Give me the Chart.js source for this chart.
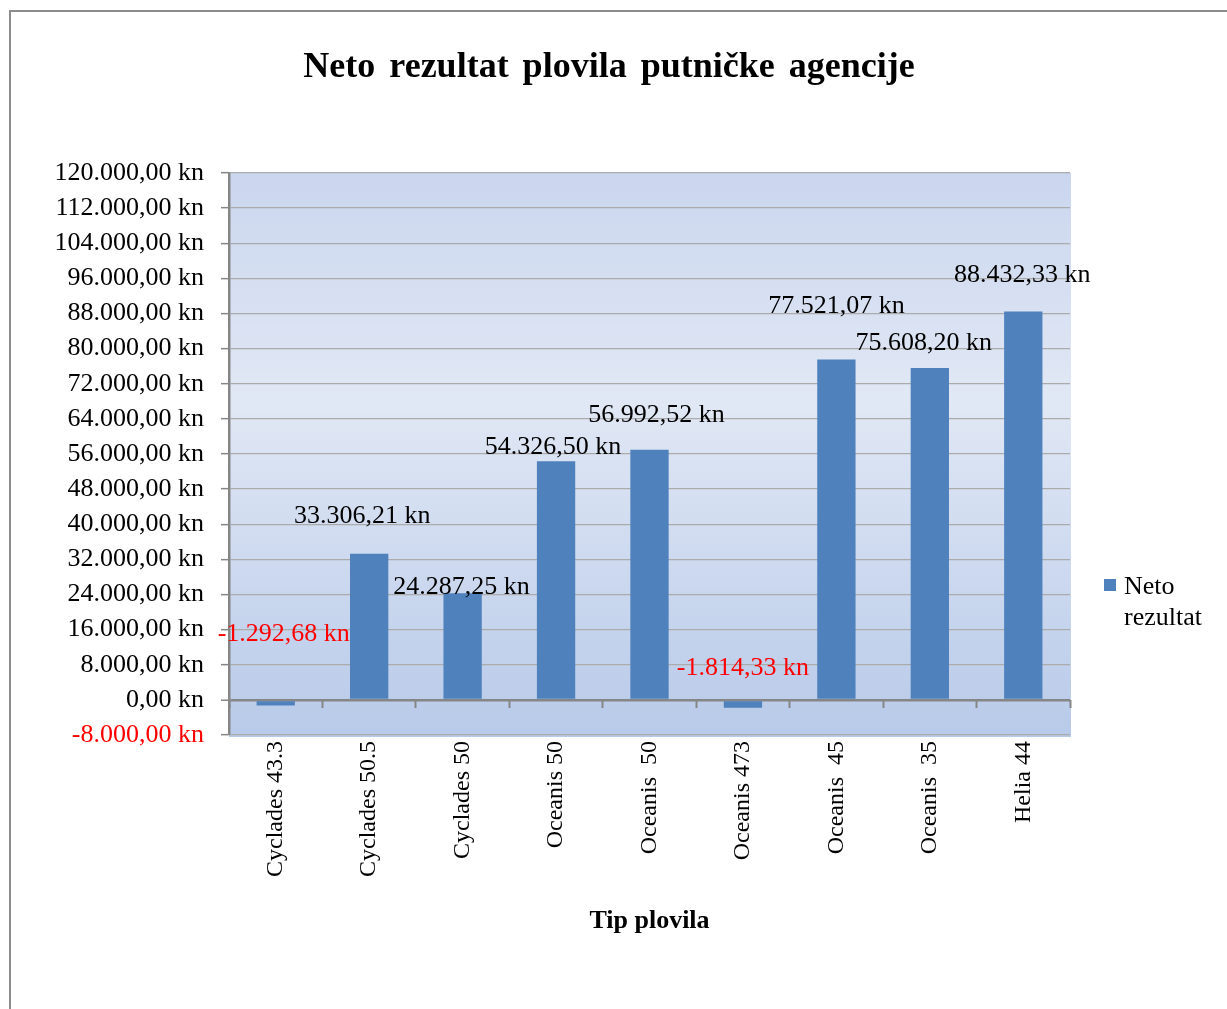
<!DOCTYPE html>
<html>
<head>
<meta charset="utf-8">
<script src="https://cdn.jsdelivr.net/npm/chart.js@4.4.1/dist/chart.umd.min.js"></script>
<style>
  html, body { margin: 0; padding: 0; background: #ffffff; }
  #wrap { position: relative; width: 1227px; height: 1009px; }
</style>
</head>
<body>
<div id="wrap"><canvas id="c" width="1227" height="1009"></canvas></div>
<script>
// ---- data ----
const categories = ['Cyclades 43.3', 'Cyclades 50.5', 'Cyclades 50', 'Oceanis 50', 'Oceanis  50', 'Oceanis 473', 'Oceanis  45', 'Oceanis  35', 'Helia 44'];
const netoRezultat = [-1292.68, 33306.21, 24287.25, 54326.50, 56992.52, -1814.33, 77521.07, 75608.20, 88432.33];
const seriesName = ['Neto', 'rezultat'];
const chartTitle = 'Neto rezultat plovila putničke agencije';
const xAxisTitle = 'Tip plovila';
const yMin = -8000, yMax = 120000, yStep = 8000;

// ---- layout tweaks for data labels (pixel shifts relative to bar end) ----
const labelShiftX = [8, -7, -1, -3, 7, 0, 0, -6, -1];
const labelShiftY = [-66, -37, -6, -14, -34, -32, -53, -25, -36];

const SERIF = '"Liberation Serif", "Times New Roman", serif';
const BAR = '#4F81BD';

function fmt(v) {
  const neg = v < 0;
  const a = Math.abs(v);
  let s = a.toFixed(2);
  let [i, d] = s.split('.');
  i = i.replace(/\B(?=(\d{3})+(?!\d))/g, '.');
  return (neg ? '-' : '') + i + ',' + d + ' kn';
}

const decorPlugin = {
  id: 'decor',
  beforeDraw(chart) {
    const ctx = chart.ctx;
    const a = chart.chartArea;
    ctx.save();
    // outer border
    ctx.strokeStyle = '#8c8c8c';
    ctx.lineWidth = 2;
    ctx.beginPath();
    ctx.moveTo(10, 1009);
    ctx.lineTo(10, 11);
    ctx.lineTo(1227, 11);
    ctx.stroke();
    // plot background gradient
    const g = ctx.createLinearGradient(0, a.top, 0, a.bottom + 2);
    g.addColorStop(0, '#CAD6EE');
    g.addColorStop(0.4, '#E1E8F5');
    g.addColorStop(1, '#B8CAE9');
    ctx.fillStyle = g;
    ctx.fillRect(a.left, a.top, a.right - a.left + 1, a.bottom - a.top + 2);
    ctx.restore();
  },
  afterDraw(chart) {
    const ctx = chart.ctx;
    const a = chart.chartArea;
    ctx.save();
    // title
    ctx.fillStyle = '#000';
    ctx.textAlign = 'center';
    ctx.textBaseline = 'middle';
    ctx.font = 'bold 36px ' + SERIF;
    if ('wordSpacing' in ctx) ctx.wordSpacing = '5px';
    ctx.fillText(chartTitle, 609, 68);
    if ('wordSpacing' in ctx) ctx.wordSpacing = '0px';
    // x axis title
    ctx.font = 'bold 26px ' + SERIF;
    ctx.fillText(xAxisTitle, (a.left + a.right) / 2, 921);
    // legend
    ctx.fillStyle = BAR;
    ctx.fillRect(1104, 579, 12, 12);
    ctx.fillStyle = '#000';
    ctx.textAlign = 'left';
    ctx.font = '26px ' + SERIF;
    ctx.fillText(seriesName[0], 1124, 587);
    ctx.fillText(seriesName[1], 1124, 618);
    ctx.restore();
  },
  afterDatasetsDraw(chart) {
    const ctx = chart.ctx;
    const meta = chart.getDatasetMeta(0);
    const ys = chart.scales.y;
    ctx.save();
    ctx.font = '26px ' + SERIF;
    ctx.textAlign = 'center';
    ctx.textBaseline = 'middle';
    meta.data.forEach((bar, i) => {
      const v = netoRezultat[i];
      const yEnd = ys.getPixelForValue(Math.max(v, 0));
      ctx.fillStyle = v < 0 ? '#FF0000' : '#000000';
      ctx.fillText(fmt(v), bar.x + labelShiftX[i], yEnd + labelShiftY[i]);
    });
    ctx.restore();
  }
};

new Chart(document.getElementById('c'), {
  type: 'bar',
  data: {
    labels: categories,
    datasets: [{
      label: seriesName.join(' '),
      data: netoRezultat,
      backgroundColor: BAR,
      borderWidth: 0,
      categoryPercentage: 1.0,
      barPercentage: 0.41,
      xAxisID: 'x',
      yAxisID: 'y'
    }]
  },
  options: {
    responsive: false,
    animation: false,
    devicePixelRatio: 1,
    layout: { padding: { top: 173, right: 157, bottom: 0, left: 0 } },
    plugins: {
      legend: { display: false },
      title: { display: false },
      tooltip: { enabled: false }
    },
    scales: {
      y: {
        min: yMin,
        max: yMax,
        afterFit(s) { s.width = 229; },
        ticks: {
          stepSize: yStep,
          padding: 17,
          font: { family: SERIF, size: 26 },
          color: (c) => (c.tick && c.tick.value < 0 ? '#FF0000' : '#000000'),
          callback: (v) => fmt(v)
        },
        grid: {
          color: (c) => (c.tick && c.tick.value === 0 ? '#868686' : '#ABABAB'),
          lineWidth: (c) => (c.tick && c.tick.value === 0 ? 2.5 : 1.3),
          tickColor: '#868686',
          tickLength: 8,
          tickWidth: 1.5
        },
        border: { display: true, color: '#868686', width: 2.5 }
      },
      x: {
        position: 'bottom',
        afterFit(s) { s.height = 1009 - 735; },
        ticks: {
          autoSkip: false,
          minRotation: 90,
          maxRotation: 90,
          padding: 6,
          font: { family: SERIF, size: 24 },
          color: '#000000'
        },
        grid: { display: false, drawTicks: false },
        border: { display: false }
      },
      x0: {
        type: 'category',
        position: { y: 0 },
        ticks: { display: false },
        grid: {
          offset: true,
          drawOnChartArea: false,
          drawTicks: true,
          tickLength: 8,
          tickColor: '#868686',
          tickWidth: 2
        },
        border: { display: false }
      }
    }
  },
  plugins: [decorPlugin]
});
</script>
</body>
</html>
